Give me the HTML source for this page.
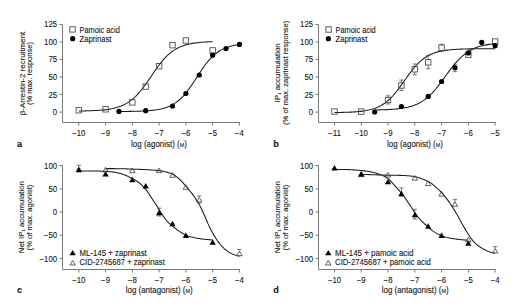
<!DOCTYPE html><html><head><meta charset="utf-8"><style>html,body{margin:0;padding:0;background:#fff;}svg{display:block;}text{stroke:#151515;stroke-width:0.10px;}</style></head><body>
<svg width="520" height="306" viewBox="0 0 520 306" font-family='"Liberation Sans", sans-serif' fill="#151515">
<rect width="520" height="306" fill="#fff"/>
<path d="M59.5,24.5 H62.5 V122.5 H239.9" stroke="#7a7a7a" stroke-width="1" fill="none"/>
<path d="M59.5,112.10 H62.5" stroke="#7a7a7a" stroke-width="1"/>
<text x="57.10" y="115.05" text-anchor="end" font-size="8.40" textLength="4.34" lengthAdjust="spacingAndGlyphs">0</text>
<path d="M59.5,94.58 H62.5" stroke="#7a7a7a" stroke-width="1"/>
<text x="57.10" y="97.53" text-anchor="end" font-size="8.40" textLength="8.69" lengthAdjust="spacingAndGlyphs">25</text>
<path d="M59.5,77.06 H62.5" stroke="#7a7a7a" stroke-width="1"/>
<text x="57.10" y="80.01" text-anchor="end" font-size="8.40" textLength="8.69" lengthAdjust="spacingAndGlyphs">50</text>
<path d="M59.5,59.54 H62.5" stroke="#7a7a7a" stroke-width="1"/>
<text x="57.10" y="62.49" text-anchor="end" font-size="8.40" textLength="8.69" lengthAdjust="spacingAndGlyphs">75</text>
<path d="M59.5,42.02 H62.5" stroke="#7a7a7a" stroke-width="1"/>
<text x="57.10" y="44.97" text-anchor="end" font-size="8.40" textLength="13.03" lengthAdjust="spacingAndGlyphs">100</text>
<path d="M59.5,24.50 H62.5" stroke="#7a7a7a" stroke-width="1"/>
<text x="57.10" y="27.45" text-anchor="end" font-size="8.40" textLength="13.03" lengthAdjust="spacingAndGlyphs">125</text>
<path d="M78.80,122.5 V125.5" stroke="#7a7a7a" stroke-width="1"/>
<text x="78.80" y="136.10" text-anchor="middle" font-size="8.40" textLength="13.25" lengthAdjust="spacingAndGlyphs">−10</text>
<path d="M105.57,122.5 V125.5" stroke="#7a7a7a" stroke-width="1"/>
<text x="105.57" y="136.10" text-anchor="middle" font-size="8.40" textLength="8.91" lengthAdjust="spacingAndGlyphs">−9</text>
<path d="M132.34,122.5 V125.5" stroke="#7a7a7a" stroke-width="1"/>
<text x="132.34" y="136.10" text-anchor="middle" font-size="8.40" textLength="8.91" lengthAdjust="spacingAndGlyphs">−8</text>
<path d="M159.11,122.5 V125.5" stroke="#7a7a7a" stroke-width="1"/>
<text x="159.11" y="136.10" text-anchor="middle" font-size="8.40" textLength="8.91" lengthAdjust="spacingAndGlyphs">−7</text>
<path d="M185.88,122.5 V125.5" stroke="#7a7a7a" stroke-width="1"/>
<text x="185.88" y="136.10" text-anchor="middle" font-size="8.40" textLength="8.91" lengthAdjust="spacingAndGlyphs">−6</text>
<path d="M212.65,122.5 V125.5" stroke="#7a7a7a" stroke-width="1"/>
<text x="212.65" y="136.10" text-anchor="middle" font-size="8.40" textLength="8.91" lengthAdjust="spacingAndGlyphs">−5</text>
<path d="M239.42,122.5 V125.5" stroke="#7a7a7a" stroke-width="1"/>
<text x="239.42" y="136.10" text-anchor="middle" font-size="8.40" textLength="8.91" lengthAdjust="spacingAndGlyphs">−4</text>
<path d="M78.80,110.99 L80.47,110.97 L82.15,110.94 L83.82,110.91 L85.49,110.87 L87.17,110.83 L88.84,110.78 L90.51,110.73 L92.19,110.66 L93.86,110.59 L95.53,110.51 L97.20,110.41 L98.88,110.30 L100.55,110.18 L102.22,110.03 L103.90,109.87 L105.57,109.68 L107.24,109.46 L108.92,109.22 L110.59,108.93 L112.26,108.61 L113.94,108.24 L115.61,107.82 L117.28,107.35 L118.95,106.81 L120.63,106.20 L122.30,105.52 L123.97,104.74 L125.65,103.88 L127.32,102.91 L128.99,101.83 L130.67,100.63 L132.34,99.31 L134.01,97.86 L135.69,96.28 L137.36,94.57 L139.03,92.72 L140.71,90.75 L142.38,88.66 L144.05,86.46 L145.72,84.17 L147.40,81.81 L149.07,79.39 L150.74,76.94 L152.42,74.48 L154.09,72.04 L155.76,69.64 L157.44,67.30 L159.11,65.05 L160.78,62.89 L162.46,60.85 L164.13,58.93 L165.80,57.14 L167.48,55.48 L169.15,53.95 L170.82,52.55 L172.50,51.28 L174.17,50.14 L175.84,49.10 L177.51,48.18 L179.19,47.35 L180.86,46.61 L182.53,45.96 L184.21,45.38 L185.88,44.87 L187.55,44.42 L189.23,44.02 L190.90,43.67 L192.57,43.36 L194.25,43.10 L195.92,42.86 L197.59,42.66 L199.26,42.48 L200.94,42.32 L202.61,42.19 L204.28,42.07 L205.96,41.96 L207.63,41.87 L209.30,41.79 L210.98,41.73 L212.65,41.67" stroke="#1a1a1a" stroke-width="1.05" fill="none"/>
<path d="M118.95,111.49 L120.46,111.48 L121.97,111.47 L123.47,111.46 L124.98,111.44 L126.48,111.43 L127.99,111.41 L129.50,111.39 L131.00,111.37 L132.51,111.34 L134.01,111.31 L135.52,111.28 L137.02,111.24 L138.53,111.20 L140.04,111.15 L141.54,111.09 L143.05,111.02 L144.55,110.95 L146.06,110.86 L147.57,110.76 L149.07,110.65 L150.58,110.52 L152.08,110.37 L153.59,110.21 L155.09,110.01 L156.60,109.80 L158.11,109.55 L159.61,109.27 L161.12,108.95 L162.62,108.58 L164.13,108.17 L165.64,107.70 L167.14,107.18 L168.65,106.59 L170.15,105.92 L171.66,105.18 L173.16,104.34 L174.67,103.42 L176.18,102.39 L177.68,101.25 L179.19,100.00 L180.69,98.63 L182.20,97.14 L183.70,95.53 L185.21,93.80 L186.72,91.95 L188.22,89.99 L189.73,87.93 L191.23,85.78 L192.74,83.55 L194.25,81.28 L195.75,78.96 L197.26,76.63 L198.76,74.31 L200.27,72.02 L201.77,69.77 L203.28,67.59 L204.79,65.50 L206.29,63.50 L207.80,61.61 L209.30,59.84 L210.81,58.18 L212.32,56.65 L213.82,55.24 L215.33,53.94 L216.83,52.77 L218.34,51.70 L219.84,50.74 L221.35,49.87 L222.86,49.10 L224.36,48.40 L225.87,47.78 L227.37,47.24 L228.88,46.75 L230.39,46.32 L231.89,45.94 L233.40,45.60 L234.90,45.31 L236.41,45.05 L237.91,44.82 L239.42,44.62" stroke="#1a1a1a" stroke-width="1.05" fill="none"/>
<rect x="76.10" y="107.60" width="5.40" height="5.40" fill="none" stroke="#444" stroke-width="0.85"/>
<rect x="102.87" y="106.60" width="5.40" height="5.40" fill="none" stroke="#444" stroke-width="0.85"/>
<rect x="129.64" y="99.70" width="5.40" height="5.40" fill="none" stroke="#444" stroke-width="0.85"/>
<rect x="143.03" y="83.90" width="5.40" height="5.40" fill="none" stroke="#444" stroke-width="0.85"/>
<rect x="156.41" y="63.50" width="5.40" height="5.40" fill="none" stroke="#444" stroke-width="0.85"/>
<rect x="169.80" y="42.50" width="5.40" height="5.40" fill="none" stroke="#444" stroke-width="0.85"/>
<rect x="183.18" y="37.80" width="5.40" height="5.40" fill="none" stroke="#444" stroke-width="0.85"/>
<rect x="209.95" y="47.70" width="5.40" height="5.40" fill="none" stroke="#444" stroke-width="0.85"/>
<circle cx="118.95" cy="111.40" r="2.60" fill="#000"/>
<circle cx="145.72" cy="110.70" r="2.60" fill="#000"/>
<circle cx="172.50" cy="106.00" r="2.60" fill="#000"/>
<circle cx="185.88" cy="93.50" r="2.60" fill="#000"/>
<circle cx="199.26" cy="75.00" r="2.60" fill="#000"/>
<circle cx="212.65" cy="55.20" r="2.60" fill="#000"/>
<circle cx="226.03" cy="48.60" r="2.60" fill="#000"/>
<circle cx="239.42" cy="44.40" r="2.60" fill="#000"/>
<rect x="69.80" y="26.70" width="5.40" height="5.40" fill="none" stroke="#444" stroke-width="0.85"/>
<circle cx="72.70" cy="38.70" r="2.60" fill="#000"/>
<text x="79.60" y="32.60" text-anchor="start" font-size="8.20" textLength="40.20" lengthAdjust="spacingAndGlyphs">Pamoic acid</text>
<text x="79.60" y="41.60" text-anchor="start" font-size="8.20" textLength="31.80" lengthAdjust="spacingAndGlyphs">Zaprinast</text>
<text transform="translate(24.60,73.50) rotate(-90)" text-anchor="middle" font-size="8.00" textLength="83.40" lengthAdjust="spacingAndGlyphs">β-Arrestin-2 recruitment</text>
<text transform="translate(32.30,73.60) rotate(-90)" text-anchor="middle" font-size="8.00" textLength="63.00" lengthAdjust="spacingAndGlyphs">(% max. response)</text>
<text x="159.00" y="146.80" text-anchor="middle" font-size="8.20" textLength="55.80" lengthAdjust="spacingAndGlyphs">log (agonist) (<tspan font-size="5.6">M</tspan>)</text>
<text x="17" y="147" font-size="9.2" font-weight="bold">a</text>
<path d="M315.5,24.5 H318.5 V122.5 H495.6" stroke="#7a7a7a" stroke-width="1" fill="none"/>
<path d="M315.5,112.10 H318.5" stroke="#7a7a7a" stroke-width="1"/>
<text x="313.10" y="115.05" text-anchor="end" font-size="8.40" textLength="4.34" lengthAdjust="spacingAndGlyphs">0</text>
<path d="M315.5,94.58 H318.5" stroke="#7a7a7a" stroke-width="1"/>
<text x="313.10" y="97.53" text-anchor="end" font-size="8.40" textLength="8.69" lengthAdjust="spacingAndGlyphs">25</text>
<path d="M315.5,77.06 H318.5" stroke="#7a7a7a" stroke-width="1"/>
<text x="313.10" y="80.01" text-anchor="end" font-size="8.40" textLength="8.69" lengthAdjust="spacingAndGlyphs">50</text>
<path d="M315.5,59.54 H318.5" stroke="#7a7a7a" stroke-width="1"/>
<text x="313.10" y="62.49" text-anchor="end" font-size="8.40" textLength="8.69" lengthAdjust="spacingAndGlyphs">75</text>
<path d="M315.5,42.02 H318.5" stroke="#7a7a7a" stroke-width="1"/>
<text x="313.10" y="44.97" text-anchor="end" font-size="8.40" textLength="13.03" lengthAdjust="spacingAndGlyphs">100</text>
<path d="M315.5,24.50 H318.5" stroke="#7a7a7a" stroke-width="1"/>
<text x="313.10" y="27.45" text-anchor="end" font-size="8.40" textLength="13.03" lengthAdjust="spacingAndGlyphs">125</text>
<path d="M334.50,122.5 V125.5" stroke="#7a7a7a" stroke-width="1"/>
<text x="334.50" y="136.10" text-anchor="middle" font-size="8.40" textLength="13.25" lengthAdjust="spacingAndGlyphs">−11</text>
<path d="M361.27,122.5 V125.5" stroke="#7a7a7a" stroke-width="1"/>
<text x="361.27" y="136.10" text-anchor="middle" font-size="8.40" textLength="13.25" lengthAdjust="spacingAndGlyphs">−10</text>
<path d="M388.04,122.5 V125.5" stroke="#7a7a7a" stroke-width="1"/>
<text x="388.04" y="136.10" text-anchor="middle" font-size="8.40" textLength="8.91" lengthAdjust="spacingAndGlyphs">−9</text>
<path d="M414.81,122.5 V125.5" stroke="#7a7a7a" stroke-width="1"/>
<text x="414.81" y="136.10" text-anchor="middle" font-size="8.40" textLength="8.91" lengthAdjust="spacingAndGlyphs">−8</text>
<path d="M441.58,122.5 V125.5" stroke="#7a7a7a" stroke-width="1"/>
<text x="441.58" y="136.10" text-anchor="middle" font-size="8.40" textLength="8.91" lengthAdjust="spacingAndGlyphs">−7</text>
<path d="M468.35,122.5 V125.5" stroke="#7a7a7a" stroke-width="1"/>
<text x="468.35" y="136.10" text-anchor="middle" font-size="8.40" textLength="8.91" lengthAdjust="spacingAndGlyphs">−6</text>
<path d="M495.12,122.5 V125.5" stroke="#7a7a7a" stroke-width="1"/>
<text x="495.12" y="136.10" text-anchor="middle" font-size="8.40" textLength="8.91" lengthAdjust="spacingAndGlyphs">−5</text>
<path d="M334.50,112.52 L336.51,112.49 L338.52,112.46 L340.52,112.43 L342.53,112.38 L344.54,112.33 L346.55,112.27 L348.55,112.20 L350.56,112.11 L352.57,112.01 L354.58,111.89 L356.59,111.74 L358.59,111.57 L360.60,111.36 L362.61,111.12 L364.62,110.83 L366.62,110.49 L368.63,110.09 L370.64,109.61 L372.65,109.06 L374.65,108.40 L376.66,107.64 L378.67,106.76 L380.68,105.74 L382.69,104.56 L384.69,103.22 L386.70,101.70 L388.71,99.99 L390.72,98.08 L392.72,95.99 L394.73,93.70 L396.74,91.25 L398.75,88.65 L400.76,85.93 L402.76,83.13 L404.77,80.29 L406.78,77.45 L408.79,74.67 L410.79,71.98 L412.80,69.41 L414.81,67.00 L416.82,64.77 L418.83,62.72 L420.83,60.87 L422.84,59.21 L424.85,57.74 L426.86,56.44 L428.86,55.31 L430.87,54.32 L432.88,53.47 L434.89,52.74 L436.90,52.12 L438.90,51.58 L440.91,51.13 L442.92,50.74 L444.93,50.42 L446.93,50.14 L448.94,49.91 L450.95,49.71 L452.96,49.55 L454.97,49.41 L456.97,49.29 L458.98,49.19 L460.99,49.11 L463.00,49.04 L465.00,48.98 L467.01,48.94 L469.02,48.89 L471.03,48.86 L473.03,48.83 L475.04,48.81 L477.05,48.79 L479.06,48.77 L481.07,48.76 L483.07,48.75 L485.08,48.74 L487.09,48.73 L489.10,48.72 L491.10,48.71 L493.11,48.71 L495.12,48.71" stroke="#1a1a1a" stroke-width="1.05" fill="none"/>
<path d="M374.65,109.96 L376.16,109.94 L377.67,109.90 L379.17,109.87 L380.68,109.83 L382.18,109.79 L383.69,109.74 L385.20,109.68 L386.70,109.62 L388.21,109.54 L389.71,109.46 L391.22,109.37 L392.72,109.27 L394.23,109.15 L395.74,109.02 L397.24,108.87 L398.75,108.70 L400.25,108.51 L401.76,108.30 L403.27,108.07 L404.77,107.80 L406.28,107.50 L407.78,107.17 L409.29,106.80 L410.79,106.38 L412.30,105.91 L413.81,105.40 L415.31,104.82 L416.82,104.18 L418.32,103.48 L419.83,102.70 L421.34,101.84 L422.84,100.90 L424.35,99.87 L425.85,98.76 L427.36,97.54 L428.86,96.23 L430.37,94.82 L431.88,93.31 L433.38,91.71 L434.89,90.01 L436.39,88.23 L437.90,86.37 L439.40,84.44 L440.91,82.46 L442.42,80.43 L443.92,78.37 L445.43,76.29 L446.93,74.22 L448.44,72.16 L449.95,70.13 L451.45,68.15 L452.96,66.22 L454.46,64.37 L455.97,62.59 L457.47,60.90 L458.98,59.30 L460.49,57.80 L461.99,56.40 L463.50,55.09 L465.00,53.88 L466.51,52.77 L468.02,51.75 L469.52,50.81 L471.03,49.96 L472.53,49.19 L474.04,48.49 L475.54,47.85 L477.05,47.28 L478.56,46.77 L480.06,46.30 L481.57,45.89 L483.07,45.52 L484.58,45.19 L486.09,44.89 L487.59,44.63 L489.10,44.39 L490.60,44.18 L492.11,44.00 L493.61,43.83 L495.12,43.69" stroke="#1a1a1a" stroke-width="1.05" fill="none"/>
<rect x="331.80" y="108.80" width="5.40" height="5.40" fill="none" stroke="#444" stroke-width="0.85"/>
<rect x="358.57" y="108.90" width="5.40" height="5.40" fill="none" stroke="#444" stroke-width="0.85"/>
<path d="M385.84,95.80 H390.24 M388.04,95.80 V97.20 M385.84,104.00 H390.24 M388.04,102.80 V104.00" stroke="#444" stroke-width="0.7" fill="none"/>
<rect x="385.34" y="97.30" width="5.40" height="5.40" fill="none" stroke="#444" stroke-width="0.85"/>
<path d="M399.23,80.00 H403.62 M401.43,80.00 V82.70 M399.23,90.50 H403.62 M401.43,88.30 V90.50" stroke="#444" stroke-width="0.7" fill="none"/>
<rect x="398.73" y="82.80" width="5.40" height="5.40" fill="none" stroke="#444" stroke-width="0.85"/>
<path d="M412.61,64.00 H417.01 M414.81,64.00 V66.50 M412.61,74.70 H417.01 M414.81,72.10 V74.70" stroke="#444" stroke-width="0.7" fill="none"/>
<rect x="412.11" y="66.60" width="5.40" height="5.40" fill="none" stroke="#444" stroke-width="0.85"/>
<path d="M426.00,55.40 H430.39 M428.19,55.40 V59.50 M426.00,68.70 H430.39 M428.19,65.10 V68.70" stroke="#444" stroke-width="0.7" fill="none"/>
<rect x="425.50" y="59.60" width="5.40" height="5.40" fill="none" stroke="#444" stroke-width="0.85"/>
<path d="M439.38,44.30 H443.78 M441.58,44.30 V44.90 M439.38,51.20 H443.78 M441.58,50.50 V51.20" stroke="#444" stroke-width="0.7" fill="none"/>
<rect x="438.88" y="45.00" width="5.40" height="5.40" fill="none" stroke="#444" stroke-width="0.85"/>

<rect x="465.65" y="52.00" width="5.40" height="5.40" fill="none" stroke="#444" stroke-width="0.85"/>
<rect x="492.42" y="38.80" width="5.40" height="5.40" fill="none" stroke="#444" stroke-width="0.85"/>
<circle cx="374.65" cy="112.00" r="2.60" fill="#000"/>
<circle cx="401.43" cy="106.50" r="2.60" fill="#000"/>
<circle cx="428.19" cy="96.40" r="2.60" fill="#000"/>
<circle cx="441.58" cy="81.50" r="2.60" fill="#000"/>
<path d="M452.77,64.20 H457.17 M452.77,71.70 H457.17 M454.97,64.20 V71.70" stroke="#444" stroke-width="0.7" fill="none"/>
<circle cx="454.97" cy="67.70" r="2.60" fill="#000"/>
<circle cx="468.35" cy="52.90" r="2.60" fill="#000"/>
<circle cx="481.74" cy="42.40" r="2.60" fill="#000"/>
<circle cx="495.12" cy="45.70" r="2.60" fill="#000"/>
<rect x="325.90" y="26.80" width="5.40" height="5.40" fill="none" stroke="#444" stroke-width="0.85"/>
<circle cx="328.40" cy="38.70" r="2.60" fill="#000"/>
<text x="335.50" y="32.60" text-anchor="start" font-size="8.20" textLength="40.20" lengthAdjust="spacingAndGlyphs">Pamoic acid</text>
<text x="335.50" y="41.60" text-anchor="start" font-size="8.20" textLength="31.80" lengthAdjust="spacingAndGlyphs">Zaprinast</text>
<text transform="translate(279.80,72.90) rotate(-90)" text-anchor="middle" font-size="8.00" textLength="59.40" lengthAdjust="spacingAndGlyphs">IP<tspan font-size="4.4" dy="1.3">1</tspan><tspan dy="-1.3"> accumulation</tspan></text>
<text transform="translate(288.40,72.80) rotate(-90)" text-anchor="middle" font-size="8.00" textLength="104.20" lengthAdjust="spacingAndGlyphs">(% of max. zaprinast response)</text>
<text x="415.00" y="146.80" text-anchor="middle" font-size="8.20" textLength="55.80" lengthAdjust="spacingAndGlyphs">log (agonist) (<tspan font-size="5.6">M</tspan>)</text>
<text x="273.3" y="147" font-size="9.2" font-weight="bold">b</text>
<path d="M59.5,165.6 H62.5 V269.5 H239.9" stroke="#7a7a7a" stroke-width="1" fill="none"/>
<path d="M59.5,165.65 H62.5" stroke="#7a7a7a" stroke-width="1"/>
<text x="57.10" y="168.60" text-anchor="end" font-size="8.40" textLength="13.03" lengthAdjust="spacingAndGlyphs">100</text>
<path d="M59.5,188.88 H62.5" stroke="#7a7a7a" stroke-width="1"/>
<text x="57.10" y="191.82" text-anchor="end" font-size="8.40" textLength="8.69" lengthAdjust="spacingAndGlyphs">50</text>
<path d="M59.5,212.10 H62.5" stroke="#7a7a7a" stroke-width="1"/>
<text x="57.10" y="215.05" text-anchor="end" font-size="8.40" textLength="4.34" lengthAdjust="spacingAndGlyphs">0</text>
<path d="M59.5,235.32 H62.5" stroke="#7a7a7a" stroke-width="1"/>
<text x="57.10" y="238.27" text-anchor="end" font-size="8.40" textLength="13.25" lengthAdjust="spacingAndGlyphs">−50</text>
<path d="M59.5,258.55 H62.5" stroke="#7a7a7a" stroke-width="1"/>
<text x="57.10" y="261.50" text-anchor="end" font-size="8.40" textLength="17.59" lengthAdjust="spacingAndGlyphs">−100</text>
<path d="M78.80,269.5 V272.5" stroke="#7a7a7a" stroke-width="1"/>
<text x="78.80" y="283.10" text-anchor="middle" font-size="8.40" textLength="13.25" lengthAdjust="spacingAndGlyphs">−10</text>
<path d="M105.57,269.5 V272.5" stroke="#7a7a7a" stroke-width="1"/>
<text x="105.57" y="283.10" text-anchor="middle" font-size="8.40" textLength="8.91" lengthAdjust="spacingAndGlyphs">−9</text>
<path d="M132.34,269.5 V272.5" stroke="#7a7a7a" stroke-width="1"/>
<text x="132.34" y="283.10" text-anchor="middle" font-size="8.40" textLength="8.91" lengthAdjust="spacingAndGlyphs">−8</text>
<path d="M159.11,269.5 V272.5" stroke="#7a7a7a" stroke-width="1"/>
<text x="159.11" y="283.10" text-anchor="middle" font-size="8.40" textLength="8.91" lengthAdjust="spacingAndGlyphs">−7</text>
<path d="M185.88,269.5 V272.5" stroke="#7a7a7a" stroke-width="1"/>
<text x="185.88" y="283.10" text-anchor="middle" font-size="8.40" textLength="8.91" lengthAdjust="spacingAndGlyphs">−6</text>
<path d="M212.65,269.5 V272.5" stroke="#7a7a7a" stroke-width="1"/>
<text x="212.65" y="283.10" text-anchor="middle" font-size="8.40" textLength="8.91" lengthAdjust="spacingAndGlyphs">−5</text>
<path d="M239.42,269.5 V272.5" stroke="#7a7a7a" stroke-width="1"/>
<text x="239.42" y="283.10" text-anchor="middle" font-size="8.40" textLength="8.91" lengthAdjust="spacingAndGlyphs">−4</text>
<path d="M78.80,171.00 L79.93,171.00 L81.05,171.00 L82.18,171.00 L83.30,171.00 L84.43,171.00 L85.55,171.00 L86.68,171.00 L87.80,171.00 L88.93,171.00 L90.05,171.00 L91.18,171.00 L92.30,171.00 L93.43,171.00 L94.55,171.01 L95.68,171.03 L96.80,171.04 L97.93,171.07 L99.05,171.09 L100.18,171.12 L101.30,171.15 L102.43,171.19 L103.55,171.23 L104.68,171.27 L105.81,171.31 L106.93,171.38 L108.06,171.47 L109.18,171.58 L110.31,171.70 L111.43,171.83 L112.56,171.97 L113.68,172.12 L114.81,172.28 L115.93,172.47 L117.06,172.67 L118.18,172.89 L119.31,173.14 L120.43,173.41 L121.56,173.74 L122.68,174.13 L123.81,174.56 L124.93,175.01 L126.06,175.51 L127.18,176.06 L128.31,176.64 L129.43,177.22 L130.56,177.78 L131.68,178.33 L132.81,178.89 L133.94,179.47 L135.06,180.11 L136.19,180.77 L137.31,181.47 L138.44,182.23 L139.56,183.07 L140.69,184.05 L141.81,185.17 L142.94,186.37 L144.06,187.60 L145.19,188.86 L146.31,190.18 L147.44,191.61 L148.56,193.21 L149.69,195.01 L150.81,196.78 L151.94,198.51 L153.06,200.23 L154.19,201.94 L155.31,203.60 L156.44,205.25 L157.56,206.95 L158.69,208.73 L159.82,210.66 L160.94,212.59 L162.07,214.38 L163.19,216.09 L164.32,217.69 L165.44,219.16 L166.57,220.51 L167.69,221.77 L168.82,222.91 L169.94,223.94 L171.07,224.90 L172.19,225.84 L173.32,226.80 L174.44,227.75 L175.57,228.67 L176.69,229.52 L177.82,230.34 L178.94,231.12 L180.07,231.84 L181.19,232.52 L182.32,233.17 L183.44,233.79 L184.57,234.37 L185.69,234.91 L186.82,235.40 L187.95,235.87 L189.07,236.29 L190.20,236.66 L191.32,237.00 L192.45,237.31 L193.57,237.60 L194.70,237.84 L195.82,238.05 L196.95,238.24 L198.07,238.42 L199.20,238.59 L200.32,238.74 L201.45,238.89 L202.57,239.02 L203.70,239.16 L204.82,239.28 L205.95,239.40 L207.07,239.52 L208.20,239.63 L209.32,239.73 L210.45,239.83 L211.57,239.92 L212.70,240.00" stroke="#1a1a1a" stroke-width="1.05" fill="none"/>
<path d="M105.50,168.60 L106.63,168.60 L107.75,168.60 L108.88,168.61 L110.00,168.61 L111.13,168.62 L112.26,168.63 L113.38,168.63 L114.51,168.64 L115.63,168.65 L116.76,168.66 L117.89,168.68 L119.01,168.69 L120.14,168.70 L121.26,168.72 L122.39,168.74 L123.52,168.77 L124.64,168.81 L125.77,168.85 L126.89,168.89 L128.02,168.93 L129.15,168.98 L130.27,169.02 L131.40,169.07 L132.53,169.11 L133.65,169.15 L134.78,169.19 L135.90,169.23 L137.03,169.27 L138.16,169.31 L139.28,169.35 L140.41,169.39 L141.53,169.44 L142.66,169.49 L143.79,169.54 L144.91,169.60 L146.04,169.66 L147.16,169.72 L148.29,169.78 L149.42,169.85 L150.54,169.93 L151.67,170.01 L152.79,170.09 L153.92,170.18 L155.05,170.28 L156.17,170.39 L157.30,170.50 L158.42,170.62 L159.55,170.76 L160.68,170.92 L161.80,171.12 L162.93,171.35 L164.05,171.59 L165.18,171.84 L166.31,172.10 L167.43,172.37 L168.56,172.66 L169.68,172.98 L170.81,173.35 L171.94,173.77 L173.06,174.27 L174.19,174.97 L175.32,175.79 L176.44,176.63 L177.57,177.53 L178.69,178.50 L179.82,179.53 L180.95,180.63 L182.07,181.83 L183.20,183.08 L184.32,184.37 L185.45,185.68 L186.58,186.98 L187.70,188.29 L188.83,189.63 L189.95,191.00 L191.08,192.41 L192.21,193.87 L193.33,195.41 L194.46,197.02 L195.58,198.68 L196.71,200.36 L197.84,202.07 L198.96,203.91 L200.09,205.99 L201.21,208.33 L202.34,210.73 L203.47,213.18 L204.59,215.70 L205.72,218.27 L206.84,220.98 L207.97,223.66 L209.10,226.12 L210.22,228.40 L211.35,230.58 L212.47,232.65 L213.60,234.62 L214.73,236.51 L215.85,238.34 L216.98,240.08 L218.11,241.69 L219.23,243.16 L220.36,244.52 L221.48,245.79 L222.61,246.98 L223.74,248.08 L224.86,249.08 L225.99,250.01 L227.11,250.88 L228.24,251.69 L229.37,252.43 L230.49,253.08 L231.62,253.65 L232.74,254.16 L233.87,254.61 L235.00,255.00 L236.12,255.35 L237.25,255.68 L238.37,255.96 L239.50,256.20" stroke="#1a1a1a" stroke-width="1.05" fill="none"/>
<polygon points="105.57,167.30 102.82,171.90 108.32,171.90" fill="none" stroke="#444" stroke-width="0.85"/>
<polygon points="132.34,168.10 129.59,172.70 135.09,172.70" fill="none" stroke="#444" stroke-width="0.85"/>
<polygon points="159.11,168.10 156.36,172.70 161.86,172.70" fill="none" stroke="#444" stroke-width="0.85"/>
<polygon points="172.50,172.70 169.75,177.30 175.25,177.30" fill="none" stroke="#444" stroke-width="0.85"/>
<polygon points="185.88,184.70 183.13,189.30 188.63,189.30" fill="none" stroke="#444" stroke-width="0.85"/>
<path d="M197.06,196.00 H201.46 M199.26,196.00 V197.00 M197.06,203.00 H201.46 M199.26,202.40 V203.00" stroke="#444" stroke-width="0.7" fill="none"/>
<polygon points="199.26,197.40 196.51,202.00 202.01,202.00" fill="none" stroke="#444" stroke-width="0.85"/>
<path d="M237.22,249.50 H241.62 M239.42,249.50 V250.70" stroke="#444" stroke-width="0.7" fill="none"/>
<polygon points="239.42,251.10 236.67,255.70 242.17,255.70" fill="none" stroke="#444" stroke-width="0.85"/>
<path d="M76.60,165.30 H81.00 M76.60,169.00 H81.00 M78.80,165.30 V169.00" stroke="#444" stroke-width="0.7" fill="none"/>
<polygon points="78.80,166.80 75.65,172.20 81.95,172.20" fill="#000"/>
<polygon points="105.57,171.20 102.42,176.60 108.72,176.60" fill="#000"/>
<polygon points="132.34,176.80 129.19,182.20 135.49,182.20" fill="#000"/>
<polygon points="145.72,183.10 142.57,188.50 148.88,188.50" fill="#000"/>
<path d="M156.91,208.20 H161.31 M156.91,216.00 H161.31 M159.11,208.20 V216.00" stroke="#444" stroke-width="0.7" fill="none"/>
<polygon points="159.11,209.80 155.96,215.20 162.26,215.20" fill="#000"/>
<polygon points="172.50,220.80 169.34,226.20 175.65,226.20" fill="#000"/>
<polygon points="185.88,232.60 182.73,238.00 189.03,238.00" fill="#000"/>
<polygon points="212.65,239.30 209.50,244.70 215.80,244.70" fill="#000"/>
<polygon points="72.65,249.90 69.50,255.30 75.80,255.30" fill="#000"/>
<polygon points="72.70,260.40 69.95,265.00 75.45,265.00" fill="none" stroke="#444" stroke-width="0.85"/>
<text x="79.50" y="255.60" text-anchor="start" font-size="8.20" textLength="67.30" lengthAdjust="spacingAndGlyphs">ML-145 + zaprinast</text>
<text x="79.50" y="265.40" text-anchor="start" font-size="8.20" textLength="85.30" lengthAdjust="spacingAndGlyphs">CID-2745687 + zaprinast</text>
<text transform="translate(23.60,217.20) rotate(-90)" text-anchor="middle" font-size="8.00" textLength="72.00" lengthAdjust="spacingAndGlyphs">Net IP<tspan font-size="4.4" dy="1.3">1</tspan><tspan dy="-1.3"> accumulation</tspan></text>
<text transform="translate(31.80,217.50) rotate(-90)" text-anchor="middle" font-size="8.00" textLength="65.80" lengthAdjust="spacingAndGlyphs">(% of max. agonist)</text>
<text x="159.20" y="292.80" text-anchor="middle" font-size="8.20" textLength="67.00" lengthAdjust="spacingAndGlyphs">log (antagonist) (<tspan font-size="5.6">M</tspan>)</text>
<text x="17" y="293" font-size="9.2" font-weight="bold">c</text>
<path d="M315.5,165.6 H318.5 V269.5 H495.6" stroke="#7a7a7a" stroke-width="1" fill="none"/>
<path d="M315.5,165.65 H318.5" stroke="#7a7a7a" stroke-width="1"/>
<text x="313.10" y="168.60" text-anchor="end" font-size="8.40" textLength="13.03" lengthAdjust="spacingAndGlyphs">100</text>
<path d="M315.5,188.88 H318.5" stroke="#7a7a7a" stroke-width="1"/>
<text x="313.10" y="191.82" text-anchor="end" font-size="8.40" textLength="8.69" lengthAdjust="spacingAndGlyphs">50</text>
<path d="M315.5,212.10 H318.5" stroke="#7a7a7a" stroke-width="1"/>
<text x="313.10" y="215.05" text-anchor="end" font-size="8.40" textLength="4.34" lengthAdjust="spacingAndGlyphs">0</text>
<path d="M315.5,235.32 H318.5" stroke="#7a7a7a" stroke-width="1"/>
<text x="313.10" y="238.27" text-anchor="end" font-size="8.40" textLength="13.25" lengthAdjust="spacingAndGlyphs">−50</text>
<path d="M315.5,258.55 H318.5" stroke="#7a7a7a" stroke-width="1"/>
<text x="313.10" y="261.50" text-anchor="end" font-size="8.40" textLength="17.59" lengthAdjust="spacingAndGlyphs">−100</text>
<path d="M334.50,269.5 V272.5" stroke="#7a7a7a" stroke-width="1"/>
<text x="334.50" y="283.10" text-anchor="middle" font-size="8.40" textLength="13.25" lengthAdjust="spacingAndGlyphs">−10</text>
<path d="M361.27,269.5 V272.5" stroke="#7a7a7a" stroke-width="1"/>
<text x="361.27" y="283.10" text-anchor="middle" font-size="8.40" textLength="8.91" lengthAdjust="spacingAndGlyphs">−9</text>
<path d="M388.04,269.5 V272.5" stroke="#7a7a7a" stroke-width="1"/>
<text x="388.04" y="283.10" text-anchor="middle" font-size="8.40" textLength="8.91" lengthAdjust="spacingAndGlyphs">−8</text>
<path d="M414.81,269.5 V272.5" stroke="#7a7a7a" stroke-width="1"/>
<text x="414.81" y="283.10" text-anchor="middle" font-size="8.40" textLength="8.91" lengthAdjust="spacingAndGlyphs">−7</text>
<path d="M441.58,269.5 V272.5" stroke="#7a7a7a" stroke-width="1"/>
<text x="441.58" y="283.10" text-anchor="middle" font-size="8.40" textLength="8.91" lengthAdjust="spacingAndGlyphs">−6</text>
<path d="M468.35,269.5 V272.5" stroke="#7a7a7a" stroke-width="1"/>
<text x="468.35" y="283.10" text-anchor="middle" font-size="8.40" textLength="8.91" lengthAdjust="spacingAndGlyphs">−5</text>
<path d="M495.12,269.5 V272.5" stroke="#7a7a7a" stroke-width="1"/>
<text x="495.12" y="283.10" text-anchor="middle" font-size="8.40" textLength="8.91" lengthAdjust="spacingAndGlyphs">−4</text>
<path d="M334.50,169.40 L335.62,169.40 L336.74,169.41 L337.86,169.41 L338.98,169.42 L340.10,169.43 L341.22,169.45 L342.34,169.46 L343.46,169.48 L344.58,169.49 L345.70,169.51 L346.82,169.54 L347.94,169.58 L349.06,169.62 L350.18,169.67 L351.30,169.73 L352.42,169.80 L353.54,169.87 L354.66,169.95 L355.78,170.03 L356.90,170.12 L358.02,170.21 L359.14,170.31 L360.26,170.41 L361.38,170.51 L362.50,170.62 L363.62,170.74 L364.74,170.88 L365.86,171.04 L366.98,171.21 L368.11,171.39 L369.23,171.59 L370.35,171.80 L371.47,172.02 L372.59,172.25 L373.71,172.50 L374.83,172.76 L375.95,173.05 L377.07,173.39 L378.19,173.79 L379.31,174.21 L380.43,174.66 L381.55,175.13 L382.67,175.61 L383.79,176.11 L384.91,176.66 L386.03,177.26 L387.15,177.93 L388.27,178.69 L389.39,179.64 L390.51,180.78 L391.63,182.04 L392.75,183.35 L393.87,184.66 L394.99,185.92 L396.11,187.14 L397.23,188.37 L398.35,189.63 L399.47,190.91 L400.59,192.23 L401.71,193.59 L402.83,195.01 L403.95,196.48 L405.07,198.00 L406.19,199.59 L407.31,201.25 L408.43,202.94 L409.55,204.63 L410.67,206.31 L411.79,208.01 L412.91,209.70 L414.03,211.36 L415.15,212.99 L416.27,214.64 L417.39,216.22 L418.51,217.67 L419.63,218.98 L420.75,220.18 L421.87,221.31 L422.99,222.40 L424.11,223.47 L425.23,224.49 L426.35,225.47 L427.47,226.44 L428.59,227.40 L429.71,228.38 L430.83,229.35 L431.95,230.29 L433.07,231.16 L434.19,231.93 L435.32,232.62 L436.44,233.27 L437.56,233.88 L438.68,234.44 L439.80,234.96 L440.92,235.43 L442.04,235.86 L443.16,236.26 L444.28,236.63 L445.40,236.98 L446.52,237.30 L447.64,237.59 L448.76,237.85 L449.88,238.08 L451.00,238.29 L452.12,238.49 L453.24,238.67 L454.36,238.84 L455.48,238.99 L456.60,239.14 L457.72,239.27 L458.84,239.40 L459.96,239.53 L461.08,239.65 L462.20,239.76 L463.32,239.87 L464.44,239.97 L465.56,240.05 L466.68,240.13 L467.80,240.20" stroke="#1a1a1a" stroke-width="1.05" fill="none"/>
<path d="M361.30,174.40 L362.42,174.43 L363.55,174.46 L364.67,174.50 L365.80,174.53 L366.92,174.56 L368.05,174.59 L369.17,174.63 L370.29,174.66 L371.42,174.69 L372.54,174.73 L373.67,174.76 L374.79,174.79 L375.92,174.83 L377.04,174.86 L378.17,174.90 L379.29,174.94 L380.41,174.98 L381.54,175.02 L382.66,175.05 L383.79,175.09 L384.91,175.12 L386.04,175.15 L387.16,175.18 L388.28,175.20 L389.41,175.22 L390.53,175.24 L391.66,175.26 L392.78,175.27 L393.91,175.28 L395.03,175.30 L396.16,175.31 L397.28,175.32 L398.40,175.34 L399.53,175.36 L400.65,175.39 L401.78,175.42 L402.90,175.46 L404.03,175.51 L405.15,175.58 L406.27,175.65 L407.40,175.74 L408.52,175.84 L409.65,175.94 L410.77,176.06 L411.90,176.19 L413.02,176.33 L414.15,176.48 L415.27,176.66 L416.39,176.92 L417.52,177.23 L418.64,177.60 L419.77,178.00 L420.89,178.43 L422.02,178.88 L423.14,179.32 L424.26,179.76 L425.39,180.21 L426.51,180.67 L427.64,181.17 L428.76,181.72 L429.89,182.33 L431.01,183.06 L432.14,183.92 L433.26,184.86 L434.38,185.86 L435.51,186.86 L436.63,187.83 L437.76,188.79 L438.88,189.78 L440.01,190.81 L441.13,191.90 L442.25,193.10 L443.38,194.43 L444.50,195.86 L445.63,197.35 L446.75,198.87 L447.88,200.38 L449.00,201.93 L450.13,203.52 L451.25,205.17 L452.37,206.89 L453.50,208.68 L454.62,210.52 L455.75,212.41 L456.87,214.32 L458.00,216.30 L459.12,218.33 L460.24,220.39 L461.37,222.45 L462.49,224.46 L463.62,226.43 L464.74,228.38 L465.87,230.30 L466.99,232.15 L468.12,233.93 L469.24,235.70 L470.36,237.39 L471.49,238.95 L472.61,240.34 L473.74,241.63 L474.86,242.84 L475.99,243.93 L477.11,244.89 L478.23,245.75 L479.36,246.55 L480.48,247.29 L481.61,247.98 L482.73,248.62 L483.86,249.23 L484.98,249.81 L486.11,250.38 L487.23,250.90 L488.35,251.39 L489.48,251.82 L490.60,252.19 L491.73,252.53 L492.85,252.83 L493.98,253.09 L495.10,253.30" stroke="#1a1a1a" stroke-width="1.05" fill="none"/>
<polygon points="361.27,172.00 358.52,176.60 364.02,176.60" fill="none" stroke="#444" stroke-width="0.85"/>
<polygon points="388.04,172.40 385.29,177.00 390.79,177.00" fill="none" stroke="#444" stroke-width="0.85"/>
<polygon points="414.81,175.50 412.06,180.10 417.56,180.10" fill="none" stroke="#444" stroke-width="0.85"/>
<polygon points="428.19,181.00 425.44,185.60 430.94,185.60" fill="none" stroke="#444" stroke-width="0.85"/>
<polygon points="441.58,191.50 438.83,196.10 444.33,196.10" fill="none" stroke="#444" stroke-width="0.85"/>
<path d="M452.77,199.60 H457.17 M454.97,199.60 V201.30" stroke="#444" stroke-width="0.7" fill="none"/>
<polygon points="454.97,201.70 452.22,206.30 457.72,206.30" fill="none" stroke="#444" stroke-width="0.85"/>

<polygon points="468.35,237.30 465.60,241.90 471.10,241.90" fill="none" stroke="#444" stroke-width="0.85"/>
<path d="M492.92,246.60 H497.32 M495.12,246.60 V248.00" stroke="#444" stroke-width="0.7" fill="none"/>
<polygon points="495.12,248.40 492.37,253.00 497.87,253.00" fill="none" stroke="#444" stroke-width="0.85"/>
<polygon points="334.50,165.10 331.35,170.50 337.65,170.50" fill="#000"/>
<polygon points="361.27,171.00 358.12,176.40 364.42,176.40" fill="#000"/>
<polygon points="388.04,178.80 384.89,184.20 391.19,184.20" fill="#000"/>
<path d="M399.23,187.90 H403.62 M399.23,196.00 H403.62 M401.43,187.90 V196.00" stroke="#444" stroke-width="0.7" fill="none"/>
<polygon points="401.43,190.80 398.28,196.20 404.57,196.20" fill="#000"/>
<path d="M412.61,209.30 H417.01 M412.61,219.00 H417.01 M414.81,209.30 V219.00" stroke="#444" stroke-width="0.7" fill="none"/>
<polygon points="414.81,211.90 411.66,217.30 417.96,217.30" fill="#000"/>
<polygon points="428.19,223.30 425.05,228.70 431.34,228.70" fill="#000"/>
<polygon points="441.58,232.60 438.43,238.00 444.73,238.00" fill="#000"/>
<polygon points="468.35,240.30 465.20,245.70 471.50,245.70" fill="#000"/>
<polygon points="328.30,249.90 325.15,255.30 331.45,255.30" fill="#000"/>
<polygon points="328.30,260.40 325.55,265.00 331.05,265.00" fill="none" stroke="#444" stroke-width="0.85"/>
<text x="335.10" y="255.60" text-anchor="start" font-size="8.20" textLength="78.40" lengthAdjust="spacingAndGlyphs">ML-145 + pamoic acid</text>
<text x="335.10" y="265.40" text-anchor="start" font-size="8.20" textLength="95.80" lengthAdjust="spacingAndGlyphs">CID-2745687 + pamoic acid</text>
<text transform="translate(280.00,217.20) rotate(-90)" text-anchor="middle" font-size="8.00" textLength="72.00" lengthAdjust="spacingAndGlyphs">Net IP<tspan font-size="4.4" dy="1.3">1</tspan><tspan dy="-1.3"> accumulation</tspan></text>
<text transform="translate(287.80,217.50) rotate(-90)" text-anchor="middle" font-size="8.00" textLength="65.80" lengthAdjust="spacingAndGlyphs">(% of max. agonist)</text>
<text x="415.20" y="292.80" text-anchor="middle" font-size="8.20" textLength="67.00" lengthAdjust="spacingAndGlyphs">log (antagonist) (<tspan font-size="5.6">M</tspan>)</text>
<text x="273.3" y="293" font-size="9.2" font-weight="bold">d</text>
</svg></body></html>
